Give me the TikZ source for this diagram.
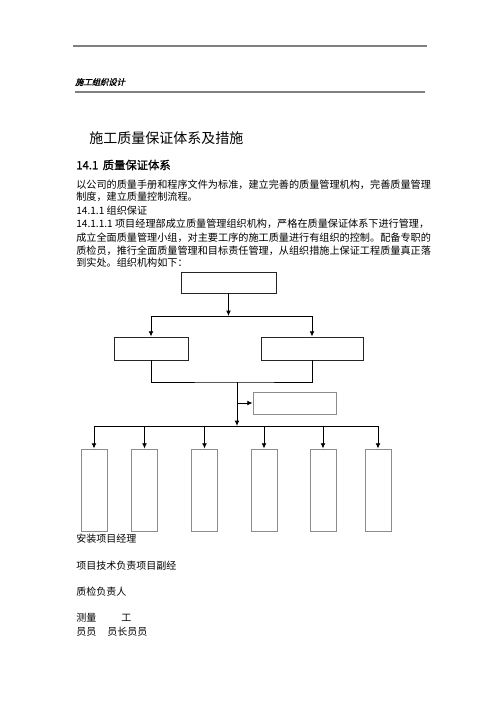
\documentclass[tikz,border=0pt]{standalone}
\usepackage{fontspec}
\usetikzlibrary{arrows.meta}
\newfontfamily\cjk{Noto Sans CJK SC}
\newfontfamily\cjkbi[FakeSlant=0.25,FakeBold=1.5]{Noto Sans CJK SC}
\newfontfamily\cjkb[FakeBold=1.2]{Noto Sans CJK SC}
\begin{document}
\begin{tikzpicture}[x=0.75pt,y=-0.75pt,
  txt/.style={anchor=west,inner sep=0pt,font=\cjk\fontsize{7.6pt}{9pt}\selectfont},
  boxd/.style={draw=black!85,line width=0.6pt,inner sep=0pt},
  boxg/.style={draw=black!45,line width=0.6pt,inner sep=0pt},
  arr/.style={draw=black,line width=0.7pt,-{Latex[length=4pt,width=3.6pt]}},
  ln/.style={draw=black,line width=0.6pt},
  rule/.style={draw=black!50,line width=0.8pt}]
\path[use as bounding box] (0,0) rectangle (500,708);
% header
\coordinate (r1a) at (73,46); \coordinate (r1b) at (427,46);
\coordinate (r2a) at (75,92); \coordinate (r2b) at (425,92);
\draw[rule] (r1a) -- (r1b);
\draw[rule] (r2a) -- (r2b);
\node[anchor=west,inner sep=0pt,font=\cjkbi\fontsize{6.2pt}{7pt}\selectfont] (hd) at (75,82) {施工组织设计};
% titles
\node[anchor=west,inner sep=0pt,font=\cjk\fontsize{10.5pt}{12pt}\selectfont] (t1) at (89,138) {施工质量保证体系及措施};
\node[anchor=west,inner sep=0pt,font=\cjkb\fontsize{8.5pt}{10pt}\selectfont] (t2) at (76,165) {14.1\, 质量保证体系};
% body
\node[txt] (b1) at (76,185) {以公司的质量手册和程序文件为标准，建立完善的质量管理机构，完善质量管理};
\node[txt] (b2) at (76,197) {制度，建立质量控制流程。};
\node[txt] (b3) at (76,211) {14.1.1 组织保证};
\node[txt] (b4) at (76,224) {14.1.1.1 项目经理部成立质量管理组织机构，严格在质量保证体系下进行管理，};
\node[txt] (b5) at (76,238) {成立全面质量管理小组，对主要工序的施工质量进行有组织的控制。配备专职的};
\node[txt] (b6) at (76,251) {质检员，推行全面质量管理和目标责任管理，从组织措施上保证工程质量真正落};
\node[txt] (b7) at (76,263) {到实处。组织机构如下：};
% chart boxes
\node[boxd,minimum width=71.25pt,minimum height=15.75pt] (top) at (228.5,282.5) {};
\node[boxd,minimum width=55.5pt,minimum height=17.25pt] (L) at (151,348.5) {};
\node[boxd,minimum width=76.5pt,minimum height=17.25pt] (R) at (312,348.5) {};
\node[boxg,minimum width=62.25pt,minimum height=16.5pt] (S) at (294.5,403) {};
\foreach \i/\x in {1/94,2/144.5,3/204.5,4/264,5/323,6/378}{
  \node[boxg,minimum width=19.5pt,minimum height=61.5pt] (B\i) at (\x,490) {};
}
% connectors
\coordinate (j1) at (228.5,316);
\coordinate (j2) at (237,382);
\coordinate (j3) at (237,426);
\coordinate (js) at (237,403);
\draw[arr] (top) -- (j1);
\draw[arr] (j1) -| (L.north);
\draw[arr] (j1) -| (R.north);
\draw[ln] (L.south) |- (j2) -| (R.south);
\draw[arr] (j2) -- (j3);
\draw[arr] (js) -- (S.west);
\draw[ln] (B1.north |- j3) -- (B6.north |- j3);
\foreach \i in {1,...,6}{
  \draw[arr] (B\i.north |- j3) -- (B\i.north);
}
% bottom texts
\node[txt,font=\cjk\fontsize{7.5pt}{9pt}\selectfont] (c1) at (76,539) {安装项目经理};
\node[txt,font=\cjk\fontsize{7.5pt}{9pt}\selectfont] (c2) at (76,566) {项目技术负责项目副经};
\node[txt,font=\cjk\fontsize{7.5pt}{9pt}\selectfont] (c3) at (76,592) {质检负责人};
\node[txt,font=\cjk\fontsize{7.5pt}{9pt}\selectfont] (c4) at (76,618) {测量};
\node[txt,font=\cjk\fontsize{7.5pt}{9pt}\selectfont] (c5) at (121,618) {工};
\node[txt,font=\cjk\fontsize{7.5pt}{9pt}\selectfont] (c6) at (76,632) {员员};
\node[txt,font=\cjk\fontsize{7.5pt}{9pt}\selectfont] (c7) at (107,632) {员长员员};
\end{tikzpicture}
\end{document}
